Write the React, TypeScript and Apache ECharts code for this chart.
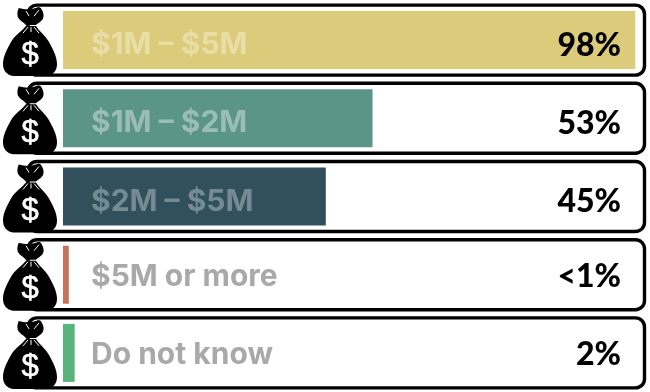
import React, { useEffect, useRef } from "react";
import * as echarts from "echarts";

const categories = ["$1M – $5M", "$1M – $2M", "$2M – $5M", "$5M or more", "Do not know"];
const values = [98, 53, 45, 1, 2];
const valueLabels = ["98%", "53%", "45%", "<1%", "2%"];
const barColors = ["#DDCB7C", "#5B9489", "#32505B", "#C6735A", "#58B47B"];
const labelColors = ["#E9DEA6", "#9ABDB8", "#748B94", "#A9A9A9", "#A9A9A9"];

const LABEL_FONT = "Inter";
const VALUE_FONT = "Lato";

const KNOT = "M18 1 C22 2 27 3 31 2 C35 1 38 0 38 0 L40 1 C42 4 44 8 42 12 C40 15 37 16 35 18 L25 18 C23 15 19 14 17 10 C16 6 17 3 18 1 Z";
const BODY =
  "M25 19 L35 19 C38 24 44 28 48 35 C52 42 56 50 56 57 C56 64 52 68 46 69 L12 69 C6 68 2 64 2 57 C2 50 6 42 10 35 C14 28 21 24 25 19 Z";

export default function App() {
  const ref = useRef<HTMLDivElement>(null);
  useEffect(() => {
    const chart = echarts.init(ref.current!, null, { renderer: "svg" });
    chart.setOption({
      animation: false,
      grid: { left: 63, top: 1, width: 584, height: 391 },
      xAxis: { type: "value", min: 0, max: 100, show: false },
      yAxis: { type: "category", inverse: true, data: categories, show: false },
      series: [
        {
          type: "custom",
          z: 1,
          silent: true,
          data: values.map((_, i) => [0, i]),
          encode: { x: 0, y: 1 },
          renderItem: (_p: any, api: any) => {
            const c = api.coord([0, api.value(1)]);
            return {
              type: "rect",
              shape: { x: 28, y: c[1] - 35, width: 616.5, height: 70, r: 9 },
              style: { fill: "#fff", stroke: "#000", lineWidth: 3.4 },
            };
          },
        },
        {
          type: "bar",
          z: 2,
          barWidth: 58,
          silent: true,
          data: values.map((v, i) => ({
            value: v,
            itemStyle: { color: barColors[i] },
            label: {
              show: true,
              position: "insideLeft",
              distance: 28,
              offset: [0, i < 3 ? 3 : 0],
              formatter: categories[i],
              color: labelColors[i],
              fontFamily: LABEL_FONT,
              fontWeight: 700,
              fontSize: 30,
            },
          })),
        },
        {
          type: "custom",
          z: 3,
          silent: true,
          data: values.map((_, i) => [0, i]),
          encode: { x: 0, y: 1 },
          renderItem: (_p: any, api: any) => {
            const i = api.value(1);
            const c = api.coord([0, i]);
            const cy = c[1];
            const ox = 1;
            const oy = cy - 33;
            const crease = (x1: number, y1: number, x2: number, y2: number) => ({
              type: "line",
              shape: { x1: ox + x1, y1: oy + y1, x2: ox + x2, y2: oy + y2 },
              style: { stroke: "#fff", lineWidth: 1 },
            });
            return {
              type: "group",
              children: [
                {
                  type: "path",
                  shape: { pathData: KNOT, x: ox + 16, y: oy, width: 27, height: 18 },
                  style: { fill: "#000" },
                },
                {
                  type: "path",
                  shape: { pathData: BODY, x: ox + 2, y: oy + 19, width: 54, height: 50 },
                  style: { fill: "#000" },
                },
                crease(25, 4, 28, 9),
                crease(38, 3, 33, 9),
                crease(27, 20, 22, 26),
                crease(30, 20, 30, 25),
                crease(33, 20, 38, 26),
                {
                  type: "text",
                  style: {
                    x: 30,
                    y: cy + 13,
                    text: "$",
                    fill: "#fff",
                    stroke: "#fff",
                    lineWidth: 0.6,
                    fontFamily: "Liberation Sans",
                    fontSize: 31,
                    align: "center",
                    verticalAlign: "middle",
                  },
                },
                {
                  type: "text",
                  style: {
                    x: 621,
                    y: cy + (i < 3 ? 3 : 0),
                    text: valueLabels[i],
                    fill: "#000",
                    fontFamily: VALUE_FONT,
                    fontWeight: 900,
                    fontSize: 32,
                    align: "right",
                    verticalAlign: "middle",
                  },
                },
              ],
            };
          },
        },
      ],
    });
    return () => chart.dispose();
  }, []);
  return <div ref={ref} style={{ position: "fixed", left: 0, top: 0, width: 650, height: 392 }} />;
}
